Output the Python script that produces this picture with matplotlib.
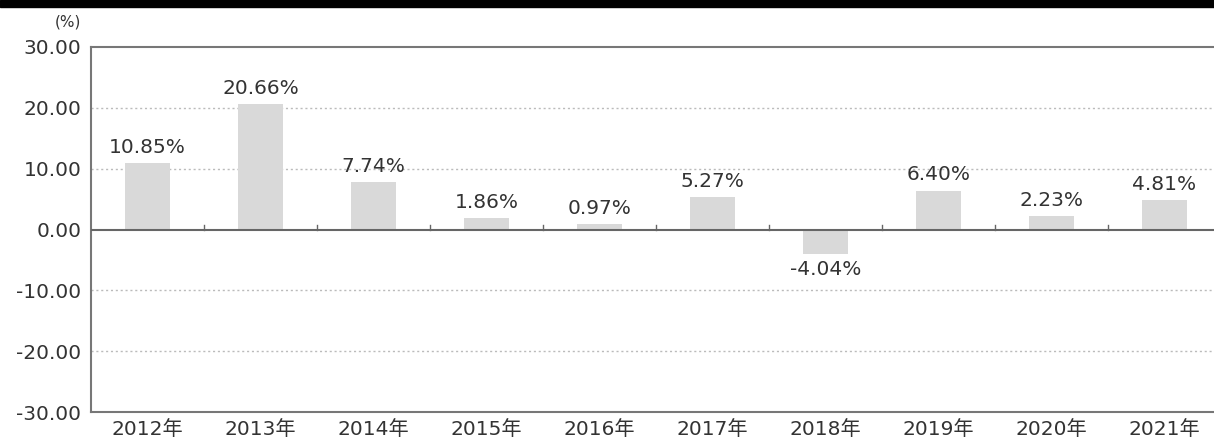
import matplotlib.pyplot as plt
import matplotlib.patches as mpatches
import numpy as np

plt.rcParams['font.family'] = ['DejaVu Sans', 'Noto Sans CJK JP']

years = ['2012年', '2013年', '2014年', '2015年', '2016年',
         '2017年', '2018年', '2019年', '2020年', '2021年']
values = [10.85, 20.66, 7.74, 1.86, 0.97, 5.27, -4.04, 6.40, 2.23, 4.81]
yticks = [-30, -20, -10, 0, 10, 20, 30]


def main():
    fig = plt.figure(figsize=(12.14, 4.41), dpi=100)
    ax = fig.add_axes([91 / 1214, 29 / 441, 1130 / 1214, 365 / 441])
    text_color = '#333333'

    # black strip at the top of the image
    fig.patches.append(mpatches.Rectangle((0, 1 - 7 / 441), 1, 7 / 441,
                                          transform=fig.transFigure,
                                          color='black', zorder=0))

    x = np.arange(len(years))
    ax.bar(x, values, width=0.4, color='#d9d9d9', zorder=2)

    ax.set_xlim(-0.5, len(years) - 0.5)
    ax.set_ylim(-30, 30)
    ax.set_yticks(yticks)
    ax.set_yticklabels([f'{v:.2f}' for v in yticks], fontsize=14.5,
                       color=text_color)
    ax.set_xticks(x)
    ax.set_xticklabels(years, fontsize=14.5, color=text_color)
    ax.tick_params(axis='both', length=0, pad=7)
    ax.tick_params(axis='x', pad=6)

    for v in [-20, -10, 10, 20]:
        ax.axhline(v, color='#bbbbbb', linestyle=(0, (1.5, 2)), linewidth=1,
                   zorder=1)
    ax.axhline(0, color='#666666', linewidth=1.5, zorder=3)

    # small tick marks on the zero line between categories
    for b in np.arange(0.5, len(years) - 1, 1.0):
        ax.plot([b, b], [0, 0.8], color='#666666', linewidth=1, zorder=3)

    for xi, v in zip(x, values):
        if v >= 0:
            ax.text(xi, v + 1.0, f'{v:.2f}%', ha='center', va='bottom',
                    fontsize=14.5, color=text_color)
        else:
            ax.text(xi, v - 1.0, f'{v:.2f}%', ha='center', va='top',
                    fontsize=14.5, color=text_color)

    for side in ['left', 'top', 'bottom']:
        ax.spines[side].set_color('#777777')
        ax.spines[side].set_linewidth(1.5)
    ax.spines['right'].set_visible(False)

    fig.text(81 / 1214, 1 - 22 / 441, '(%)', ha='right', va='center',
             fontsize=11, color=text_color)

    fig.savefig('out.png', dpi=100)


if __name__ == '__main__':
    main()
